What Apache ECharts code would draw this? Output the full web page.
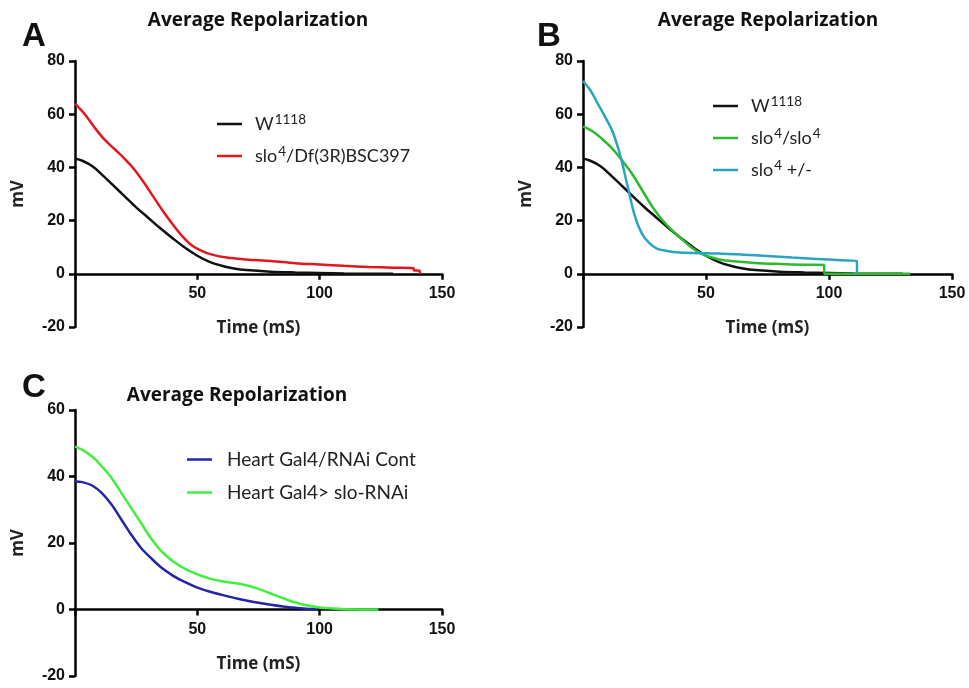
<!DOCTYPE html>
<html><head><meta charset="utf-8">
<script src="https://cdn.jsdelivr.net/npm/echarts@6/dist/echarts.min.js"></script>
<style>html,body{margin:0;padding:0;background:#fff}#c{width:969px;height:688px}</style>
</head><body><div id="c"></div><script>
// ---- data (time in ms, value in mV) ----
var wT = [0, 3, 7, 11, 15, 20, 25, 30, 35, 40, 45, 50, 55, 60, 65, 70, 80, 90, 100, 110, 120, 130];
var wV = [43.3, 42.5, 40.5, 37.3, 33.8, 29.4, 25.0, 21.0, 17.0, 13.3, 9.8, 6.8, 4.5, 3.0, 2.0, 1.4, 0.8, 0.5, 0.3, 0.1, 0.05, 0];

var dfT = [0, 4, 8, 12, 16, 20, 24, 28, 32, 36, 40, 44, 48, 52, 56, 62, 70, 80, 90, 100, 110, 120, 130, 138.4, 138.5, 140.8, 141];
var dfV = [64, 60, 55, 50.5, 47, 43.5, 39.5, 34.5, 29, 23.5, 18.5, 14, 10.5, 8.5, 7.2, 6.1, 5.4, 4.8, 4.0, 3.5, 3.0, 2.6, 2.3, 2.1, 1.3, 1.2, 0];

var homT = [0, 4, 8, 12, 16, 20, 24, 28, 32, 36, 40, 44, 48, 52, 56, 60, 70, 80, 90, 98, 98.1, 110, 120, 133];
var homV = [55.3, 53.5, 50.5, 47, 42.5, 37.5, 31.5, 25.5, 20.5, 16.5, 13.2, 10.0, 7.6, 6.2, 5.3, 4.8, 4.1, 3.7, 3.4, 3.3, 0, 0, 0, 0];

var hetT = [0, 3, 6, 9, 12, 15, 18, 21, 24, 27, 30, 34, 38, 45, 55, 65, 75, 85, 95, 105, 111.3, 111.4];
var hetV = [72.5, 69, 64, 59, 53.5, 45, 33.5, 22, 15, 11.5, 9.5, 8.6, 8.1, 7.8, 7.6, 7.2, 6.7, 6.1, 5.6, 5.1, 4.8, 0];

var ctlT = [0, 3, 7, 11, 15, 19, 23, 27, 31, 35, 40, 45, 50, 55, 60, 65, 70, 75, 80, 85, 90, 95, 99];
var ctlV = [38.5, 38.3, 37.3, 35, 31.5, 27, 22.5, 18.5, 15.5, 12.8, 10.2, 8.2, 6.6, 5.4, 4.4, 3.5, 2.7, 2.0, 1.4, 0.9, 0.5, 0.2, 0];

var rnaiT = [0, 3, 7, 11, 15, 19, 23, 27, 31, 35, 40, 45, 50, 55, 60, 65, 70, 75, 80, 85, 90, 95, 100, 105, 110, 124];
var rnaiV = [49, 48, 46, 43, 39.5, 35, 30.5, 26, 21.5, 17.8, 14.5, 12.2, 10.6, 9.3, 8.5, 8.0, 7.3, 6.2, 4.8, 3.4, 2.1, 1.2, 0.6, 0.3, 0.1, 0];

var xTicks = [0, 50, 100, 150];
var titleText = 'Average Repolarization';

function pairs(t, v) { return t.map(function (x, i) { return [x, v[i]]; }); }

var labelMap = {
  'A_W': '{n|W}{s|1118}',
  'A_DF': '{n|slo}{s|4}{n|/Df(3R)BSC397}',
  'B_W': '{n|W}{s|1118}',
  'B_HOM': '{n|slo}{s|4}{n|/slo}{s|4}',
  'B_HET': '{n|slo}{s|4}{n| +/-}',
  'C_CTL': '{n|Heart Gal4/RNAi Cont}',
  'C_RNAI': '{n|Heart Gal4> slo-RNAi}'
};

var tickFont = {fontFamily: 'Liberation Sans', fontWeight: 'bold', fontSize: 16, color: '#111'};
var nameFont = {fontFamily: 'Open Sans', fontWeight: 'bold', fontSize: 17, color: '#222'};

// grid height 266px; the x axis sits on the 0 line
function xAx(gi, zeroShift) {
  return {
    type: 'value', gridIndex: gi, min: xTicks[0], max: xTicks[xTicks.length - 1], interval: 50,
    position: 'bottom', offset: -zeroShift,
    axisLine: {onZero: false, lineStyle: {color: '#000', width: 2.5}},
    axisTick: {show: true, length: 6, lineStyle: {color: '#000', width: 2.5}},
    axisLabel: Object.assign({margin: 12, showMaxLabel: true, formatter: function (v) { return v === 0 ? '' : v; }}, tickFont),
    splitLine: {show: false},
    name: 'Time (mS)', nameLocation: 'middle', nameGap: 46, nameTextStyle: nameFont
  };
}
function yAx(gi, max) {
  return {
    type: 'value', gridIndex: gi, min: -20, max: max, interval: 20,
    axisLine: {show: true, onZero: false, lineStyle: {color: '#000', width: 2.5}},
    axisTick: {show: true, length: 6, lineStyle: {color: '#000', width: 2.5}},
    axisLabel: Object.assign({margin: 10}, tickFont),
    splitLine: {show: false},
    name: 'mV', nameLocation: 'middle', nameGap: 48, nameTextStyle: nameFont
  };
}
function ser(name, gi, t, v, color) {
  return {
    name: name, type: 'line', xAxisIndex: gi, yAxisIndex: gi, data: pairs(t, v),
    showSymbol: false, symbol: 'none', smooth: 0.35,
    lineStyle: {color: color, width: 2.5}, itemStyle: {color: color}, z: 3
  };
}
function legend(data, left, top, gap, pad, fs) {
  return {
    data: data, orient: 'vertical', left: left, top: top, itemGap: gap, padding: 0,
    icon: 'rect', itemWidth: 25, itemHeight: 2.5, selectedMode: false,
    formatter: function (n) { return labelMap[n]; },
    textStyle: {
      padding: [0, 0, 0, pad],
      rich: {
        n: {fontFamily: 'Lato', fontSize: fs, color: '#222', lineHeight: 22},
        s: {fontFamily: 'Lato', fontSize: 13.5, color: '#222', verticalAlign: 'top', lineHeight: 22, padding: [0, 0, 8, 1]}
      }
    }
  };
}
function ttl(text, left, top, size, font, align) {
  return {text: text, left: left, top: top, padding: 0, textAlign: align,
    textStyle: {fontFamily: font, fontWeight: 'bold', fontSize: size, color: '#111'}};
}

var chart = echarts.init(document.getElementById('c'), null, {renderer: 'canvas'});
chart.setOption({
  backgroundColor: '#fff',
  animation: false,
  title: [
    ttl(titleText, 258, 11, 19, 'Open Sans', 'center'),
    ttl(titleText, 768, 11, 19, 'Open Sans', 'center'),
    ttl(titleText, 237, 386, 19, 'Open Sans', 'center'),
    ttl('A', 22, 20, 33, 'Liberation Sans', 'left'),
    ttl('B', 537, 20, 33, 'Liberation Sans', 'left'),
    ttl('C', 22, 371, 33, 'Liberation Sans', 'left')
  ],
  grid: [
    {left: 75, top: 61, width: 367, height: 266},
    {left: 583, top: 61, width: 369, height: 266},
    {left: 75, top: 410, width: 367, height: 266}
  ],
  xAxis: [xAx(0, 53.2), xAx(1, 53.2), xAx(2, 66.5)],
  yAxis: [yAx(0, 80), yAx(1, 80), yAx(2, 60)],
  legend: [
    legend(['A_W', 'A_DF'], 217, 113, 10, 8, 18),
    legend(['B_W', 'B_HOM', 'B_HET'], 713, 95, 10, 8, 18),
    legend(['C_CTL', 'C_RNAI'], 187, 450, 14, 10, 19)
  ],
  series: [
    ser('A_W', 0, wT, wV, '#111111'),
    ser('A_DF', 0, dfT, dfV, '#e3161f'),
    ser('B_W', 1, wT, wV, '#111111'),
    ser('B_HOM', 1, homT, homV, '#2dbb2d'),
    ser('B_HET', 1, hetT, hetV, '#2ba5bf'),
    ser('C_CTL', 2, ctlT, ctlV, '#2424a6'),
    ser('C_RNAI', 2, rnaiT, rnaiV, '#3ff03f')
  ]
});
</script></body></html>
